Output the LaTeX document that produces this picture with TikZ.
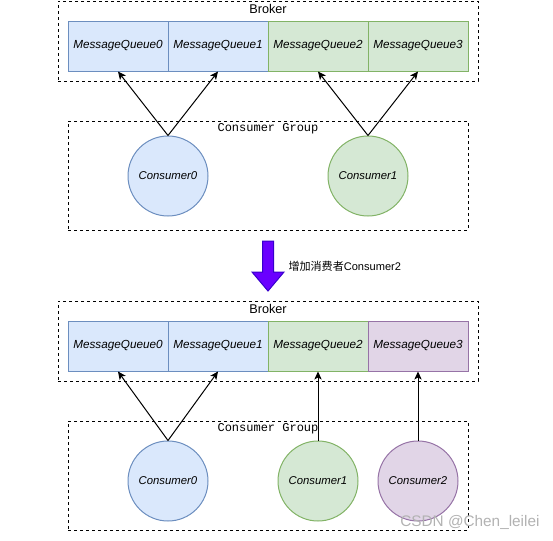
\documentclass[tikz,border=0pt]{standalone}
\usepackage{fontspec}
\setmainfont{Liberation Sans}
\setmonofont{Liberation Mono}
\newfontfamily\cjk{Noto Sans CJK SC}
\usetikzlibrary{arrows.meta,positioning}

\definecolor{blueFill}{HTML}{DAE8FC}
\definecolor{blueLine}{HTML}{6C8EBF}
\definecolor{greenFill}{HTML}{D5E8D4}
\definecolor{greenLine}{HTML}{82B366}
\definecolor{purpleFill}{HTML}{E1D5E7}
\definecolor{purpleLine}{HTML}{9673A6}
\definecolor{bigArrow}{HTML}{6A00FF}
\definecolor{bigArrowLine}{HTML}{3700CC}

\tikzset{
  qblue/.style={fill=blueFill,draw=blueLine},
  qgreen/.style={fill=greenFill,draw=greenLine},
  qpurple/.style={fill=purpleFill,draw=purpleLine},
  queue/.style={minimum width=75pt,minimum height=37.5pt,inner sep=0,font=\itshape\fontsize{8.8}{10}\selectfont},
  consumer/.style={circle,minimum size=60pt,inner sep=0,font=\itshape\fontsize{8.5}{10}\selectfont},
  frame/.style={draw,dash pattern=on 2.25pt off 2.25pt,inner sep=0},
  arr/.style={-{Stealth[length=6pt,width=5.5pt,inset=1.5pt]}}
}

\begin{document}
\begin{tikzpicture}[x=0.75pt,y=-0.75pt,line width=0.75pt]
    \useasboundingbox (0,0) rectangle (553,540);
    \providecommand{\labelfont}{\fontsize{9.5}{10}\selectfont}
    \providecommand{\groupfont}{\ttfamily\fontsize{9}{10}\selectfont}
    % before: two consumers
    \node[frame,minimum width=315pt,minimum height=60pt] (brokerA) at (268,41) {};
    \node[font=\labelfont] (brokerAtitle) at (268,9) {Broker};
    \foreach \i/\c in {0/qblue,1/qblue,2/qgreen,3/qgreen}
        \node[queue,\c] (qa\i) at (118+100*\i,46) {MessageQueue\i};
    \node[frame,minimum width=300pt,minimum height=81.75pt] (groupA) at (268,175.5) {};
    \node[font=\groupfont] (groupAtitle) at (268,129) {Consumer Group};
    \node[consumer,qblue] (ca0) at (168,176) {Consumer0};
    \node[consumer,qgreen] (ca1) at (368,176) {Consumer1};
    \draw[arr] (ca0.north) -- (qa0.south);
    \draw[arr] (ca0.north) -- (qa1.south);
    \draw[arr] (ca1.north) -- (qa2.south);
    \draw[arr] (ca1.north) -- (qa3.south);
    % big arrow
    \draw[fill=bigArrow,draw=bigArrowLine] (262.5,241) -- (273.5,241) -- (273.5,272) -- (284,272)
        -- (268,291) -- (252,272) -- (262.5,272) -- cycle;
    \node[anchor=west,font=\fontsize{8.3}{10}\selectfont,inner sep=0] (addtext) at (288,266) {{\cjk 增加消费者}Consumer2};
    % after: three consumers
    \node[frame,minimum width=315pt,minimum height=60pt] (brokerB) at (268,341) {};
    \node[font=\labelfont] (brokerBtitle) at (268,309) {Broker};
    \foreach \i/\c in {0/qblue,1/qblue,2/qgreen,3/qpurple}
        \node[queue,\c] (qb\i) at (118+100*\i,346) {MessageQueue\i};
    \node[frame,minimum width=300pt,minimum height=81.75pt] (groupB) at (268,475.5) {};
    \node[font=\groupfont] (groupBtitle) at (268,429) {Consumer Group};
    \node[consumer,qblue] (cb0) at (168,481) {Consumer0};
    \node[consumer,qgreen] (cb1) at (318,481) {Consumer1};
    \node[consumer,qpurple] (cb2) at (418,481) {Consumer2};
    \draw[arr] (cb0.north) -- (qb0.south);
    \draw[arr] (cb0.north) -- (qb1.south);
    \draw[arr] (cb1.north) -- (qb2.south);
    \draw[arr] (cb2.north) -- (qb3.south);
    \node[anchor=east,text=black!30,font=\fontsize{11.5}{12}\selectfont,inner sep=0] (mark) at (540,522) {CSDN @Chen\_leilei};
\end{tikzpicture}
\end{document}
